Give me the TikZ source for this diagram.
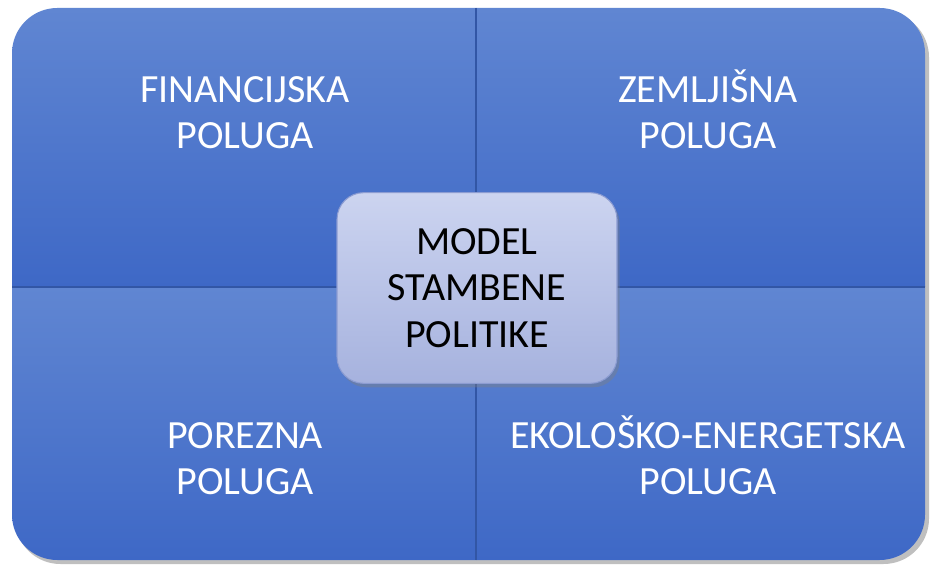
\documentclass[tikz,border=0pt]{standalone}
\usepackage{fontspec}
\setmainfont{Carlito}
\usetikzlibrary{shadows}

\definecolor{quadtop}{RGB}{96,134,210}
\definecolor{quadbot}{RGB}{62,104,198}
\definecolor{divline}{RGB}{50,86,165}
\definecolor{hubtop}{RGB}{204,212,240}
\definecolor{hubbot}{RGB}{166,178,222}
\definecolor{hubedge}{RGB}{140,156,210}

% first line with a fixed height, so all labels share one baseline
\newcommand{\capline}[1]{\rule{0pt}{30pt}\smash{#1}}

\begin{document}
\begin{tikzpicture}[
    x=0.75pt, y=-0.75pt,
    quadlabel/.style={text=white, align=center, anchor=north, inner sep=0pt,
        font=\fontsize{30}{34.5}\selectfont},
    hub/.style={rectangle, rounded corners=20pt, draw=hubedge, line width=0.8pt,
        top color=hubtop, bottom color=hubbot, minimum width=210pt, minimum height=143pt,
        align=center, font=\fontsize{30}{35}\selectfont, text=black,
        drop shadow={shadow xshift=2pt, shadow yshift=-3pt, opacity=0.4}},
    quad/.style={top color=quadtop, bottom color=quadbot}
]
\useasboundingbox (0,0) rectangle (931,566);

% Outer frame with shadow
\fill[black, opacity=0.25, rounded corners=34pt] (15,12) rectangle (929,564);
\begin{scope}
    \clip[rounded corners=34pt] (12,8) rectangle (925,560);
    \shade[quad] (12,8) rectangle (476,287);
    \shade[quad] (476,8) rectangle (925,287);
    \shade[quad] (12,287) rectangle (476,560);
    \shade[quad] (476,287) rectangle (925,560);
    % dividers
    \draw[divline, line width=1.5pt] (476,8) -- (476,560);
    \draw[divline, line width=1.5pt] (12,287) -- (925,287);
\end{scope}

% Quadrant labels
\node[quadlabel] (finan) at (245,62) {\capline{FINANCIJSKA}\\POLUGA};
\node[quadlabel] (zemlj) at (708,62) {\capline{ZEMLJIŠNA}\\POLUGA};
\node[quadlabel] (porez) at (245,408) {\capline{POREZNA}\\POLUGA};
\node[quadlabel] (ekolo) at (708,408) {\capline{EKOLOŠKO-ENERGETSKA}\\POLUGA};

% Center
\node[hub] (model) at (477,288) {MODEL\\STAMBENE\\POLITIKE};

\end{tikzpicture}
\end{document}
